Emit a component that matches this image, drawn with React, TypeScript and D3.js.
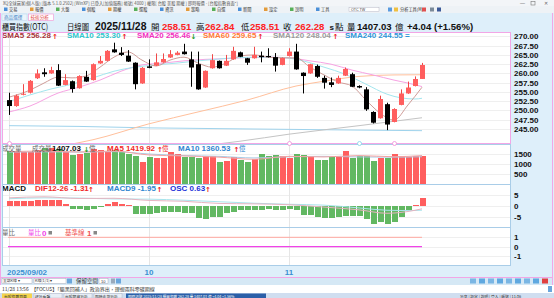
import React from "react";
import * as d3 from "d3";

const dates = [
  "2025/09/02","2025/09/03","2025/09/04","2025/09/05","2025/09/08","2025/09/09","2025/09/10","2025/09/11","2025/09/12","2025/09/15",
  "2025/09/16","2025/09/17","2025/09/18","2025/09/19","2025/09/22","2025/09/23","2025/09/24","2025/09/25","2025/09/26","2025/09/30",
  "2025/10/01","2025/10/02","2025/10/03","2025/10/07","2025/10/08","2025/10/09","2025/10/13","2025/10/14","2025/10/15","2025/10/16",
  "2025/10/17","2025/10/20","2025/10/21","2025/10/22","2025/10/23","2025/10/27","2025/10/28","2025/10/29","2025/10/30","2025/10/31",
  "2025/11/03","2025/11/04","2025/11/05","2025/11/06","2025/11/07","2025/11/10","2025/11/11","2025/11/12","2025/11/13","2025/11/14",
  "2025/11/17","2025/11/18","2025/11/19","2025/11/20","2025/11/21","2025/11/24","2025/11/25","2025/11/26","2025/11/27","2025/11/28",
];

const opens = [
  252.8,251.2,254.3,254.8,258.7,260.3,260.0,260.9,256.9,257.9,
  256.0,259.1,258.2,262.7,263.4,266.5,265.6,264.8,262.9,257.3,
  261.9,262.1,263.0,264.3,265.0,265.9,263.8,262.5,256.2,261.4,
  263.4,262.1,263.8,265.7,264.1,264.1,264.8,264.7,264.4,262.3,
  264.7,265.9,260.2,260.0,262.0,258.8,257.6,257.3,259.4,259.8,
  256.6,255.7,249.6,247.9,251.7,246.9,251.5,254.6,256.6,258.51,
];
const highs = [
  254.8,254.3,257.1,258.2,261.1,261.4,261.8,262.5,259.8,258.1,
  259.5,260.7,262.7,264.7,266.3,268.3,267.1,266.3,263.0,261.7,
  263.8,265.4,265.4,266.3,266.0,268.0,265.9,265.9,260.8,265.2,
  263.5,265.0,267.2,265.9,264.2,267.2,265.9,266.8,265.5,264.3,
  266.8,268.0,260.3,262.6,262.4,259.4,258.9,259.4,261.6,260.2,
  256.8,256.3,249.8,254.0,252.1,250.6,255.7,257.8,259.2,262.84,
];
const lows = [
  248.8,251.0,254.1,254.6,258.5,259.1,259.9,256.6,256.8,254.8,
  255.9,257.7,258.1,262.6,263.3,265.6,264.7,263.1,255.7,257.2,
  261.4,262.0,262.9,264.2,264.9,265.1,256.4,255.6,256.1,261.3,
  261.3,262.0,263.7,264.4,262.3,264.0,263.0,264.3,260.5,262.2,
  264.6,261.0,254.6,259.9,258.8,255.9,256.3,257.2,259.3,256.3,
  256.0,249.9,246.5,247.8,244.7,246.8,251.4,254.5,256.5,258.51,
];
const closes = [
  251.2,254.0,254.5,258.0,260.0,259.8,260.9,256.7,258.2,255.8,
  259.3,257.8,262.5,263.4,266.1,265.7,265.0,263.2,257.1,261.5,
  261.5,263.0,263.9,265.2,265.6,265.2,261.6,255.7,260.7,263.6,
  261.4,263.4,266.1,264.5,262.9,265.0,264.4,264.4,262.1,264.2,
  265.9,261.1,259.3,262.5,259.1,257.5,256.9,258.8,261.2,256.4,
  256.2,250.3,246.7,253.1,246.2,250.4,254.6,256.2,258.5,262.28,
];

const volumes = [
  1650,1590,1590,1620,1710,1790,1790,1750,1590,1450,
  1500,1530,1750,1710,1620,1710,1620,1480,1400,1110,
  1360,1310,1280,1620,1480,1330,1360,1310,1420,1420,
  1080,1160,1330,1200,1080,1250,1480,1420,1450,1420,
  1310,1480,1450,1420,1200,1200,1360,1360,1650,1310,
  1400,1400,1150,1310,1310,1480,1420,1360,1400,1407.03,
];

const sma5Idx = [0,3,5,7,9,11,13,15,17,19,21,23,25,27,29,31,33,35,37,39,41,43,45,47,49,51,53,55,57,59];
const sma5Vals = [253.6,255.5,257.4,259.0,258.8,259.3,261.7,264.4,265.8,263.6,262.0,263.6,264.4,262.8,261.7,262.8,264.7,265.0,264.4,264.2,264.2,261.7,259.6,257.7,256.6,252.8,249.3,247.4,251.5,256.28];
const sma10Idx = [0,3,6,9,12,15,18,21,24,27,30,33,36,39,42,45,48,51,54,56,58,59];
const sma10Vals = [252.4,254.2,255.8,257.1,258.8,260.6,261.7,262.3,262.8,263.4,263.9,264.3,264.4,264.3,263.4,261.7,259.8,257.1,254.4,253.4,253.1,253.30];
const sma20Idx = [0,3,7,10,13,16,19,22,25,28,31,34,37,40,43,46,49,52,55,57,59];
const sma20Vals = [249.6,251.2,254.7,256.3,258.2,260.6,262.3,262.8,263.4,263.8,264.0,264.3,264.4,264.2,263.4,262.5,260.9,259.6,258.2,257.4,256.46];
const sma60Idx = [8,12,20,27,34,41,45,50,55,59];
const sma60Vals = [240.6,242.1,246.4,249.6,252.8,256.6,257.9,259.2,259.6,259.65];
const sma120Idx = [30,33,40,50,59];
const sma120Vals = [241.0,241.7,243.6,245.9,248.04];
const sma240Idx = [0,10,20,30,40,50,59];
const sma240Vals = [245.9,245.7,245.3,245.1,244.9,244.7,244.55];

const volMaIdx = [0,5,10,15,20,25,30,35,40,45,50,55,59];
const volMa5 = [1620,1650,1600,1650,1450,1400,1340,1230,1380,1350,1420,1360,1419.92];
const volMa10 = [1600,1610,1600,1620,1500,1420,1380,1300,1360,1380,1350,1340,1360.53];

const osc = [
  0.40,0.40,0.35,0.37,0.45,0.48,0.48,0.44,0.15,-0.23,
  -0.23,-0.31,-0.19,-0.05,0.15,0.27,0.15,0.06,-0.60,-0.63,
  -0.63,-0.55,-0.42,-0.42,-0.48,-0.50,-0.50,-0.94,-1.00,-0.84,
  -0.84,-0.55,-0.42,-0.31,-0.33,-0.31,-0.31,-0.23,-0.31,-0.31,
  -0.23,-0.31,-0.68,-0.68,-0.81,-0.94,-0.89,-0.85,-0.73,-0.73,
  -0.73,-1.00,-1.37,-1.23,-1.37,-1.23,-0.87,-0.31,0.10,0.63,
];
const macdIdx = [0,5,10,15,20,25,30,35,40,45,50,54,56,58,59];
const difVals = [3.8,4.3,3.5,3.6,2.6,2.2,1.2,1.0,0.6,-0.5,-1.8,-3.4,-3.0,-2.0,-1.31];
const macd9Vals = [3.4,3.8,3.7,3.3,3.2,2.7,2.0,1.3,0.8,0.4,-0.9,-2.0,-2.1,-2.1,-1.95];

const ratioIdx = [0,59];
const ratioVals = [0,0];
const baseVals = [1,1];

const priceTicks = [245,247.5,250,252.5,255,257.5,260,262.5,265,267.5,270];
const volTicks = [500,1000,1500];
const macdTicks = [-5,0,5];
const ratioTicks = [-1,0,1];
const monthTickIdx = [0,20,40];
const monthTickLabels = ["2025/09/02","10","11"];
const markerIdx = [0,40,50,55];
const markerColors = ["#f08ad8","#f08ad8","#7fd3e8","#f08ad8"];

const RED = "#ff5e5e";
const GREEN = "#62b862";
const LAT = "'Liberation Sans', Arial, sans-serif";
const CJK = "'Noto Sans CJK TC', 'Noto Sans', sans-serif";

const X0 = 2, X1 = 510;
const PP = { y0: 32, y1: 143 };
const VP = { y0: 145, y1: 184 };
const MP = { y0: 185, y1: 227 };
const RP = { y0: 228, y1: 265 };

function Arrow({ x, y, up, color }: { x: number; y: number; up: boolean; color: string }) {
  return (
    <text x={x} y={y} fontSize={7} fontWeight="bold" fill={color} fontFamily="'DejaVu Sans', sans-serif">
      {up ? "↑" : "↓"}
    </text>
  );
}

export default function App() {
  const x = d3.scaleBand<string>().domain(dates).range([5.5, 425.5]);
  const cx = (i: number) => (x(dates[i]) as number) + x.bandwidth() / 2;
  const yP = d3.scaleLinear().domain([245, 270]).range([129, 36.4]);
  const yV = d3.scaleLinear().domain([0, 1500]).range([183.5, 154]);
  const yM = d3.scaleLinear().domain([-5, 5]).range([216.7, 195.3]);
  const yO = d3.scaleLinear().domain([-1, 1]).range([219.2, 192.8]);
  const yR = d3.scaleLinear().domain([-1, 1]).range([256, 237.3]);

  const mkLine = (ys: d3.ScaleLinear<number, number>) =>
    d3.line<[number, number]>().x((d) => cx(d[0])).y((d) => ys(d[1])).curve(d3.curveMonotoneX);
  const pts = (idx: number[], vals: number[]) => idx.map((k, j) => [k, vals[j]] as [number, number]);

  const priceLine = mkLine(yP);
  const volLine = mkLine(yV);
  const macdLine = mkLine(yM);
  const ratioLine = d3.line<[number, number]>().x((d) => (d[0] === 0 ? X0 + 6 : cx(d[0]))).y((d) => yR(d[1]));

  const smaLines = [
    { idx: sma240Idx, v: sma240Vals, c: "#9fd3ec" },
    { idx: sma120Idx, v: sma120Vals, c: "#c4c4c4" },
    { idx: sma60Idx, v: sma60Vals, c: "#ffc09c" },
    { idx: sma20Idx, v: sma20Vals, c: "#f7a3e3" },
    { idx: sma10Idx, v: sma10Vals, c: "#a3e6ee" },
    { idx: sma5Idx, v: sma5Vals, c: "#cf9c98" },
  ];

  const panels = [PP, VP, MP, RP];

  return (
    <svg width={554} height={298} style={{ position: "fixed", left: 0, top: 0, display: "block" }} fontFamily={LAT}>
      <defs>
        <clipPath id="cpP"><rect x={X0} y={PP.y0} width={X1 - X0} height={PP.y1 - PP.y0} /></clipPath>
        <clipPath id="cpV"><rect x={X0} y={VP.y0} width={X1 - X0} height={VP.y1 - VP.y0} /></clipPath>
        <clipPath id="cpM"><rect x={X0} y={MP.y0} width={X1 - X0} height={MP.y1 - MP.y0} /></clipPath>
      </defs>
      {/* background */}
      <rect x={0} y={0} width={554} height={298} fill="#deeffa" />
      {/* title bar */}
      <rect x={0} y={0} width={554} height={6} fill="#f3f5f8" />
      <text x={3} y={4.6} fontSize={4.2} fill="#555" fontFamily={CJK}>
        XQ全球贏家(個人版) [版本 5.1.0.2502] [WinXP] 已登入[加值服務] 帳號[ 4000 ] 權限[ 台股 美股 期權 ] 即時報價 - [台股指數頁面*]
      </text>
      <text x={520} y={5} fontSize={5} fill="#666">—</text>
      <rect x={531} y={1.5} width={4} height={3.5} fill="none" stroke="#777" strokeWidth={0.6} />
      <text x={544} y={5} fontSize={5} fill="#666">✕</text>
      {/* toolbar */}
      <rect x={0} y={6} width={554} height={7} fill="#eef2f6" />
      {["交易","報價","大盤","個股","期權","選股","資訊","策略","自選","新聞","設定","說明","工具"].map((t, i) => (
        <g key={t}>
          <rect x={4 + i * 26} y={7.5} width={3.5} height={3.5} fill={i % 3 === 0 ? "#4a8fd8" : i % 3 === 1 ? "#e39b3a" : "#58b05a"} />
          <text x={9 + i * 26} y={11} fontSize={4.2} fill="#333" fontFamily={CJK}>{t}</text>
        </g>
      ))}
      <rect x={349} y={7.5} width={30} height={4} fill="#fff" stroke="#aab" strokeWidth={0.4} />
      <text x={351} y={10.7} fontSize={3.6} fill="#333">OTC TW</text>
      <rect x={388} y={7.5} width={4} height={4} fill="#5a9be0" />
      <rect x={394} y={7.5} width={4} height={4} fill="#f0c040" />
      <text x={400} y={11} fontSize={4.2} fill="#333" fontFamily={CJK}>分析工具(M)</text>
      <rect x={422} y={7.5} width={4} height={4} fill="#e05050" />
      <rect x={430} y={7.5} width={4} height={4} fill="#7a8a9a" />
      <rect x={437} y={7.5} width={4} height={4} fill="#3b5998" />
      {/* tabs */}
      <rect x={2} y={14} width={25} height={6.5} fill="#eaf4fb" stroke="#b8d4ea" strokeWidth={0.5} />
      <text x={4} y={19} fontSize={4.6} fill="#3a7fc4" fontFamily={CJK}>商品選擇</text>
      <rect x={28.5} y={14} width={25} height={6.5} fill="#fff" stroke="#f2a0d8" strokeWidth={0.7} />
      <text x={30.5} y={19} fontSize={4.6} fill="#e03a3a" fontFamily={CJK}>技術分析</text>
      {/* header */}
      <g fontWeight="bold">
        <text x={2} y={30} fontSize={8.5} fill="#111" fontFamily={CJK} fontWeight="normal" textLength={46} lengthAdjust="spacingAndGlyphs">櫃買指數(OTC)</text>
        <text x={67} y={30} fontSize={8.5} fill="#111" fontFamily={CJK} fontWeight="normal" textLength={22} lengthAdjust="spacingAndGlyphs">日線圖</text>
        <text x={95} y={30} fontSize={10.4} fill="#111">2025/11/28</text>
        <text x={151} y={30} fontSize={8.5} fill="#111" fontFamily={CJK} fontWeight="normal">開</text>
        <text x={162} y={30} fontSize={9.6} fill="#ff2222">258.51</text>
        <text x={196} y={30} fontSize={8.5} fill="#111" fontFamily={CJK} fontWeight="normal">高</text>
        <text x={205} y={30} fontSize={9.6} fill="#ff2222">262.84</text>
        <text x={241} y={30} fontSize={8.5} fill="#111" fontFamily={CJK} fontWeight="normal">低</text>
        <text x={250} y={30} fontSize={9.6} fill="#ff2222">258.51</text>
        <text x={283} y={30} fontSize={8.5} fill="#111" fontFamily={CJK} fontWeight="normal">收</text>
        <text x={295} y={30} fontSize={9.6} fill="#ff2222">262.28</text>
        <text x={329.5} y={30} fontSize={8} fill="#111">s</text>
        <text x={335} y={30} fontSize={8.5} fill="#111" fontFamily={CJK} fontWeight="normal">點</text>
        <text x={347} y={30} fontSize={8.5} fill="#111" fontFamily={CJK} fontWeight="normal">量</text>
        <text x={357} y={30} fontSize={9.6} fill="#111">1407.03</text>
        <text x={395} y={30} fontSize={8.5} fill="#111" fontFamily={CJK} fontWeight="normal">億</text>
        <text x={407} y={30} fontSize={9.6} fill="#111">+4.04 (+1.56%)</text>
      </g>

      {/* panels */}
      {panels.map((p, i) => (
        <rect key={i} x={X0} y={p.y0} width={X1 - X0} height={p.y1 - p.y0} fill="#fff" />
      ))}
      {/* horizontal grid */}
      <g stroke="#efefef" strokeWidth={1} shapeRendering="crispEdges">
        {priceTicks.map((t) => <line key={t} x1={X0} x2={X1} y1={Math.round(yP(t)) + 0.5} y2={Math.round(yP(t)) + 0.5} />)}
        {volTicks.map((t) => <line key={t} x1={X0} x2={X1} y1={Math.round(yV(t)) + 0.5} y2={Math.round(yV(t)) + 0.5} />)}
        {macdTicks.map((t) => <line key={t} x1={X0} x2={X1} y1={Math.round(yM(t)) + 0.5} y2={Math.round(yM(t)) + 0.5} />)}
        {ratioTicks.map((t) => <line key={t} x1={X0} x2={X1} y1={Math.round(yR(t)) + 0.5} y2={Math.round(yR(t)) + 0.5} />)}
      </g>
      {/* vertical grid */}
      <g stroke="#e6e6e6" strokeWidth={1} shapeRendering="crispEdges">
        {monthTickIdx.map((k) => <line key={k} x1={cx(k) + 0.5} x2={cx(k) + 0.5} y1={PP.y0} y2={RP.y1} />)}
      </g>

      {/* price panel */}
      <g clipPath="url(#cpP)">
        {smaLines.map((s, i) => (
          <path key={i} d={priceLine(pts(s.idx, s.v)) || ""} fill="none" stroke={s.c} strokeWidth={1} />
        ))}
        {dates.map((d, i) => {
          const o = opens[i], c = closes[i];
          const up = c >= o;
          const col = up ? RED : "#000";
          const top = yP(Math.max(o, c));
          const h = Math.max(1, yP(Math.min(o, c)) - top);
          return (
            <g key={d}>
              <line x1={cx(i) + 0.5} x2={cx(i) + 0.5} y1={yP(highs[i])} y2={yP(lows[i])} stroke={up ? "#f04848" : "#000"} strokeWidth={1} />
              <rect x={cx(i) - 2} y={top} width={5} height={h} fill={col} />
            </g>
          );
        })}
      </g>
      {/* SMA legend */}
      <g fontSize={8} fontWeight="bold">
        <text x={2} y={38} fill="#a8343a">SMA5 256.28</text>
        <Arrow x={52} y={38.5} up color="#ee1111" />
        <text x={67} y={38} fill="#2ec6cc">SMA10 253.30</text>
        <Arrow x={121.5} y={38.5} up color="#ee1111" />
        <text x={137} y={38} fill="#f22fc0">SMA20 256.46</text>
        <Arrow x={190.5} y={38.5} up={false} color="#1a9a1a" />
        <text x={203} y={38} fill="#ff7a36">SMA60 259.65</text>
        <Arrow x={257.5} y={38.5} up color="#ee1111" />
        <text x={273} y={38} fill="#9a9a9a">SMA120 248.04</text>
        <Arrow x={332.5} y={38.5} up color="#ee1111" />
        <text x={345} y={38} fill="#2f96d8">SMA240 244.55 =</text>
      </g>

      {/* volume panel */}
      <g clipPath="url(#cpV)" shapeRendering="crispEdges">
        {volumes.map((v, i) => (
          <rect key={i} x={cx(i) - 2.5} y={yV(v)} width={6} height={yV(0) - yV(v)} fill={closes[i] >= opens[i] ? RED : GREEN} />
        ))}
      </g>
      <g clipPath="url(#cpV)">
        <path d={volLine(pts(volMaIdx, volMa10)) || ""} fill="none" stroke="#a7cbe6" strokeWidth={1} />
        <path d={volLine(pts(volMaIdx, volMa5)) || ""} fill="none" stroke="#f3a3a3" strokeWidth={1} />
      </g>
      <g fontSize={6.5} fontFamily={CJK}>
        <text x={2} y={150.5} fill="#666">成交量</text>
        <text x={32} y={150.5} fill="#666">成交量</text>
        <text x={52} y={151} fontSize={8} fontWeight="bold" fill="#111" fontFamily={LAT}>1407.03</text>
        <Arrow x={83.5} y={151.5} up={false} color="#1a9a1a" />
        <text x={89} y={150.5} fill="#666">億</text>
        <text x={107} y={151} fontSize={8} fontWeight="bold" fill="#f02a2a" fontFamily={LAT}>MA5 1419.92</text>
        <Arrow x={157} y={151.5} up color="#ee1111" />
        <text x={162} y={150.5} fill="#f02a2a">億</text>
        <text x={178} y={151} fontSize={8} fontWeight="bold" fill="#2f86d0" fontFamily={LAT}>MA10 1360.53</text>
        <Arrow x={233.5} y={151.5} up color="#ee1111" />
        <text x={239} y={150.5} fill="#2f86d0">億</text>
      </g>

      {/* MACD panel */}
      <g clipPath="url(#cpM)">
        <g shapeRendering="crispEdges">
          {osc.map((v, i) => (
            <rect key={i} x={cx(i) - 2.5} y={Math.min(yO(v), yO(0))} width={6} height={Math.max(1, Math.abs(yO(v) - yO(0)))} fill={v >= 0 ? RED : GREEN} />
          ))}
        </g>
        <path d={macdLine(pts(macdIdx, macd9Vals)) || ""} fill="none" stroke="#a8e4ec" strokeWidth={1} />
        <path d={macdLine(pts(macdIdx, difVals)) || ""} fill="none" stroke="#e6b4c0" strokeWidth={1} />
      </g>
      <g fontSize={8} fontWeight="bold">
        <text x={2} y={191} fill="#111">MACD</text>
        <text x={35} y={191} fill="#f02a2a">DIF12-26 -1.31</text>
        <Arrow x={88} y={191.5} up color="#ee1111" />
        <text x={107} y={191} fill="#2f86d0">MACD9 -1.95</text>
        <Arrow x={156.5} y={191.5} up color="#ee1111" />
        <text x={170} y={191} fill="#1a2fd8">OSC 0.63</text>
        <Arrow x={205} y={191.5} up color="#ee1111" />
      </g>

      {/* volume ratio panel */}
      <path d={ratioLine(pts(ratioIdx, baseVals)) || ""} fill="none" stroke="#ffa8a0" strokeWidth={1} />
      <path d={ratioLine(pts(ratioIdx, ratioVals)) || ""} fill="none" stroke="#f044e8" strokeWidth={1.2} />
      <g fontSize={6.5} fontFamily={CJK}>
        <text x={2} y={235} fill="#666">量比</text>
        <text x={28} y={235} fill="#f044e8">量比</text>
        <text x={42} y={235.5} fontSize={8} fontWeight="bold" fill="#f044e8" fontFamily={LAT}>0</text>
        <rect x={48.5} y={231} width={3.5} height={3.5} fill="#888" />
        <text x={65} y={235} fill="#f05050">基準線</text>
        <text x={87} y={235.5} fontSize={8} fontWeight="bold" fill="#f05050" fontFamily={LAT}>1</text>
        <rect x={93.5} y={231} width={3.5} height={3.5} fill="#888" />
      </g>

      {/* panel borders */}
      <g fill="none" shapeRendering="crispEdges">
        <rect x={X0 + 0.5} y={VP.y0 - 0.5} width={X1 - X0} height={VP.y1 - VP.y0 + 0.5} stroke="#a9cde8" />
        <rect x={X0 + 0.5} y={MP.y0 - 0.5} width={X1 - X0} height={MP.y1 - MP.y0 + 0.5} stroke="#a9cde8" />
        <rect x={X0 + 0.5} y={RP.y0 - 0.5} width={X1 - X0} height={RP.y1 - RP.y0 + 0.5} stroke="#a9cde8" />
        <rect x={X0 + 0.5} y={PP.y0 + 0.5} width={X1 - X0} height={PP.y1 - PP.y0} stroke="#f2a6e6" />
      </g>
      {markerIdx.map((k, j) => (
        <circle key={k} cx={cx(k) + 0.5} cy={PP.y1 + 0.5} r={2} fill="#fff" stroke={markerColors[j]} strokeWidth={0.8} />
      ))}

      {/* right axes */}
      <g fontSize={8} fontWeight="bold" fill="#111">
        {priceTicks.map((t) => <text key={t} x={514} y={yP(t) + 3}>{t.toFixed(2)}</text>)}
        {volTicks.map((t) => <text key={t} x={514} y={yV(t) + 3}>{t}</text>)}
        {macdTicks.map((t) => <text key={t} x={514} y={yM(t) + 3}>{t}</text>)}
        {ratioTicks.map((t) => <text key={t} x={514} y={yR(t) + 3}>{t}</text>)}
      </g>

      {/* date axis */}
      <g fontSize={8} fontWeight="bold" fill="#3a90d2">
        {monthTickIdx.map((k, j) => (
          <text key={k} x={j === 0 ? cx(k) - 2 : cx(k)} y={275} textAnchor={j === 0 ? "start" : "middle"}>{monthTickLabels[j]}</text>
        ))}
      </g>
      {/* outer pink frame */}
      <g stroke="#f2a6e6" strokeWidth={1} shapeRendering="crispEdges">
        <line x1={0.5} x2={0.5} y1={13} y2={285} />
        <line x1={552.5} x2={552.5} y1={13} y2={285} />
      </g>

      {/* bottom toolbar */}
      <rect x={1} y={277} width={551} height={8} fill="#d5e8f5" />
      <line x1={1} x2={552} y1={277.5} y2={277.5} stroke="#f2a6e6" />
      <rect x={2} y={278.5} width={30} height={5} fill="#fff" stroke="#99a" strokeWidth={0.4} />
      <text x={3} y={282.4} fontSize={3.8} fill="#333" fontFamily={CJK}>全部K線 ▾</text>
      <rect x={34} y={278.5} width={32} height={5} fill="#fff" stroke="#99a" strokeWidth={0.4} />
      <text x={35} y={282.4} fontSize={3.8} fill="#333" fontFamily={CJK}>K線(1/1) ▾</text>
      <rect x={67} y={278.5} width={5} height={5} fill="#6aa6dc" />
      <text x={76} y={283} fontSize={5.5} fill="#333" fontFamily={CJK}>保留空間</text>
      <rect x={99} y={278.5} width={9} height={5} fill="#fff" stroke="#99a" strokeWidth={0.4} />
      <text x={101} y={282.6} fontSize={4} fill="#333">10</text>
      <rect x={111} y={278.5} width={4} height={5} fill="#9ab" />
      <rect x={116} y={278.5} width={5} height={5} fill="#6aa6dc" />
      {[0, 1, 2, 3, 4, 5, 6, 7, 8].map((k) => (
        <rect key={k} x={470 + k * 9} y={278.5} width={6} height={5} fill={k === 8 ? "#e04040" : k % 2 ? "#5fa8e0" : "#7ab6e4"} />
      ))}
      {/* news line */}
      <rect x={0} y={285} width={554} height={8} fill="#fff" />
      <text x={2} y={291} fontSize={5} fill="#333" fontFamily={CJK}>11/28 13:56　【FOCUS】「驅黑回補人」政治界出，理想兩科零碳期線</text>
      <rect x={548} y={286} width={4} height={6} fill="#6aa6dc" />
      {/* status bar */}
      <rect x={0} y={293} width={554} height={5} fill="#d0def0" />
      <rect x={2} y={293.5} width={30} height={4.5} fill="#f5d44a" />
      <text x={4} y={297.5} fontSize={3.8} fill="#333" fontFamily={CJK}>台股指數頁面</text>
      {["評分看盤", "台股期貨分析", "即時走勢分析"].map((t, i) => (
        <g key={t}>
          <rect x={34 + i * 30} y={293.5} width={28} height={4.5} fill="#e8eef6" stroke="#99a" strokeWidth={0.3} />
          <text x={35 + i * 30} y={297.5} fontSize={3.8} fill="#333" fontFamily={CJK}>{t}</text>
        </g>
      ))}
      <rect x={126} y={293.5} width={140} height={4.5} fill="#2b5fa8" />
      <text x={128} y={297.5} fontSize={3.6} fill="#fff" fontFamily={CJK}>即時訊號 2025/11/28 櫃買指數 262.28 量 1407.03 億 +4.04 +1.56%</text>
      <text x={460} y={297.5} fontSize={3.8} fill="#333" fontFamily={CJK}>分享 | 設定 | 說明 | 登入 | 帳號 | 11:36</text>
    </svg>
  );
}
